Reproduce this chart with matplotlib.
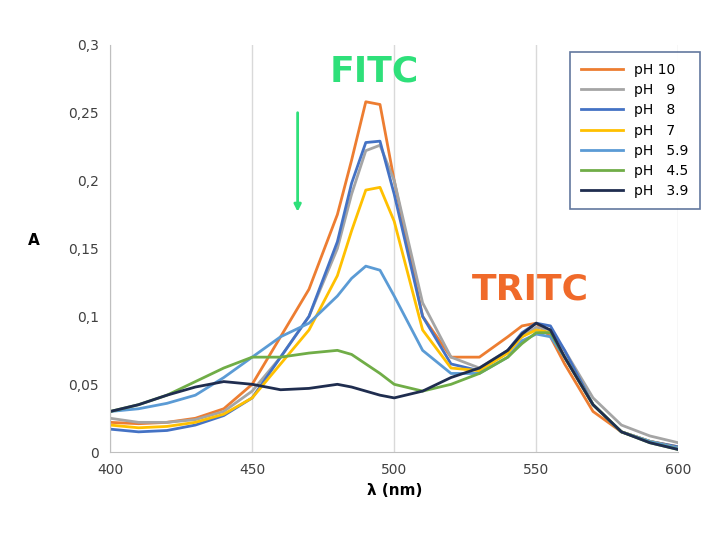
import matplotlib.pyplot as plt
from matplotlib.ticker import FuncFormatter

wl = [400, 410, 420, 430, 440, 450, 460, 470, 480, 485, 490, 495, 500,
      510, 520, 530, 540, 545, 550, 555, 560, 570, 580, 590, 600]

ph10 = [0.022, 0.021, 0.022, 0.025, 0.032, 0.05, 0.085, 0.12, 0.175, 0.215, 0.258, 0.256, 0.2,
        0.1, 0.07, 0.07, 0.085, 0.093, 0.095, 0.085, 0.065, 0.03, 0.015, 0.008, 0.004]
ph9 = [0.025, 0.022, 0.022, 0.024, 0.03, 0.045, 0.07, 0.1, 0.15, 0.19, 0.222, 0.226, 0.2,
       0.11, 0.07, 0.062, 0.075, 0.085, 0.092, 0.09, 0.075, 0.04, 0.02, 0.012, 0.007]
ph8 = [0.017, 0.015, 0.016, 0.02, 0.027, 0.04, 0.07, 0.1, 0.155, 0.198, 0.228, 0.229, 0.19,
       0.1, 0.065, 0.06, 0.075, 0.088, 0.095, 0.093, 0.075, 0.035, 0.015, 0.008, 0.004]
ph7 = [0.02, 0.018, 0.019, 0.022, 0.028, 0.04, 0.065, 0.09, 0.13, 0.163, 0.193, 0.195, 0.17,
       0.09, 0.062, 0.06, 0.073, 0.085, 0.09, 0.088, 0.07, 0.035, 0.015, 0.008, 0.003]
ph59 = [0.03, 0.032, 0.036, 0.042, 0.055, 0.07, 0.085, 0.095, 0.115, 0.128, 0.137, 0.134, 0.115,
        0.075, 0.058, 0.058, 0.07, 0.082, 0.087, 0.085, 0.07, 0.035, 0.015, 0.008, 0.003]
ph45 = [0.03, 0.035, 0.042, 0.052, 0.062, 0.07, 0.07, 0.073, 0.075, 0.072, 0.065, 0.058, 0.05,
        0.045, 0.05, 0.058, 0.07, 0.08, 0.088, 0.088, 0.07, 0.035, 0.015, 0.007, 0.002]
ph39 = [0.03, 0.035, 0.042, 0.048, 0.052, 0.05, 0.046, 0.047, 0.05, 0.048, 0.045, 0.042, 0.04,
        0.045, 0.055, 0.062, 0.075, 0.087, 0.095, 0.09, 0.07, 0.035, 0.015, 0.007, 0.002]

series = [("pH 10", ph10, "#ED7D31"), ("pH   9", ph9, "#A5A5A5"), ("pH   8", ph8, "#4472C4"),
          ("pH   7", ph7, "#FFC000"), ("pH   5.9", ph59, "#5B9BD5"), ("pH   4.5", ph45, "#70AD47"),
          ("pH   3.9", ph39, "#1F2D4F")]

fig = plt.figure(figsize=(7.2, 5.59), dpi=100)
ax = fig.add_axes([0.153, 0.191, 0.789, 0.729])
for name, vals, col in series:
    ax.plot(wl, vals, color=col, lw=2, label=name, solid_joinstyle="round")

ax.set_xlim(400, 600)
ax.set_ylim(0, 0.3)
ax.set_xticks([400, 450, 500, 550, 600])
ax.set_yticks([0, 0.05, 0.1, 0.15, 0.2, 0.25, 0.3])
ax.yaxis.set_major_formatter(FuncFormatter(lambda v, p: ("%g" % round(v, 2)).replace(".", ",")))
ax.grid(axis="x", color="#d9d9d9", lw=1)
for s in ["top", "right"]:
    ax.spines[s].set_visible(False)
ax.spines["left"].set_color("#bfbfbf")
ax.spines["bottom"].set_color("#bfbfbf")
ax.tick_params(length=0, labelsize=10, colors="#404040", pad=8)
ax.set_xlabel("λ (nm)", fontweight="bold", fontsize=11)
ax.set_ylabel("A", fontweight="bold", fontsize=11, rotation=0, labelpad=25)

ax.text(493, 0.28, "FITC", color="#2EE07A", fontsize=26, fontweight="bold", ha="center", va="center")
ax.text(548, 0.12, "TRITC", color="#F06A2A", fontsize=26, fontweight="bold", ha="center", va="center")
ax.annotate("", xy=(466, 0.175), xytext=(466, 0.252),
            arrowprops=dict(arrowstyle="-|>", color="#2EE07A", lw=2))

leg = ax.legend(loc="upper right", bbox_to_anchor=(1.05, 1.0), fontsize=10, frameon=True,
                fancybox=False, borderpad=0.8, labelspacing=0.45, handlelength=3)
leg.get_frame().set_edgecolor("#3B5686")
leg.get_frame().set_linewidth(1.2)

fig.savefig("out.png", dpi=100)
